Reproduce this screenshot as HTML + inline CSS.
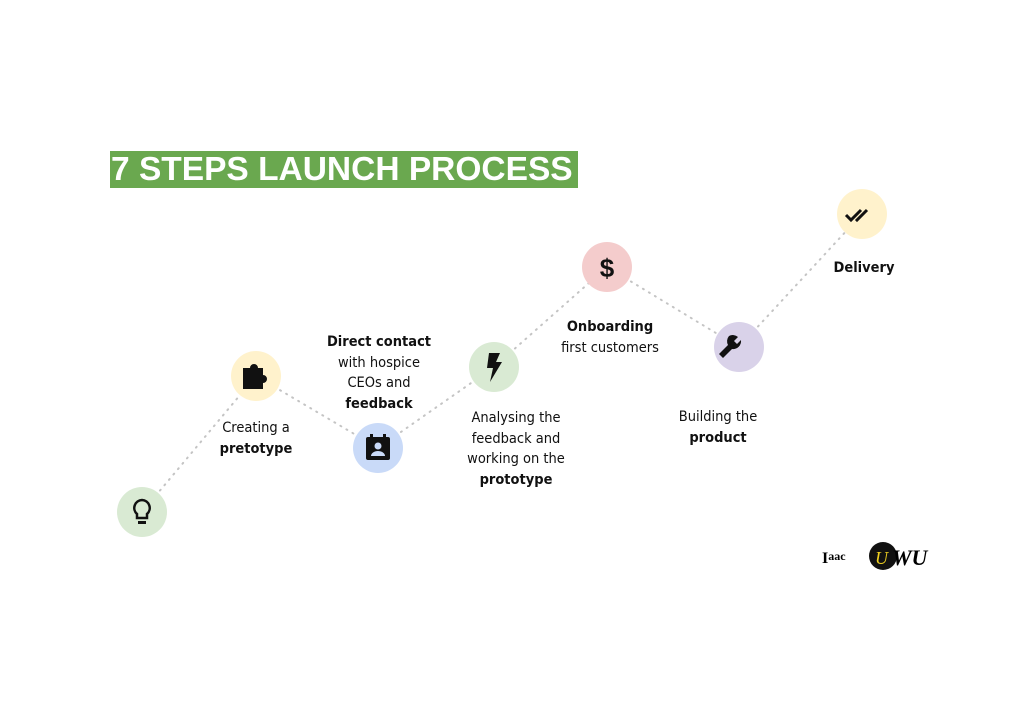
<!DOCTYPE html>
<html><head><style>
body{margin:0;width:1024px;height:725px;background:#fff;position:relative;overflow:hidden;font-family:"Liberation Sans",sans-serif}
.t{position:absolute;left:110px;top:151px;width:468px;height:37px;background:#6aa84f;color:#fff;font-weight:bold;font-size:33.5px;line-height:37px;white-space:nowrap;text-indent:1px;overflow:hidden}
.l{position:absolute;font-size:14.5px;line-height:20.5px;text-align:center;color:#111;width:160px;margin-left:-80px;font-family:"DejaVu Sans Condensed","Liberation Sans",sans-serif}
</style></head><body>
<div class="t">7 STEPS LAUNCH PROCESS</div>
<svg width="1024" height="725" style="position:absolute;left:0;top:0">
<g stroke="#c4c4c4" stroke-width="2" stroke-dasharray="1 6" stroke-linecap="round">
<line x1="142" y1="512" x2="256" y2="376"/>
<line x1="256" y1="376" x2="378" y2="448"/>
<line x1="378" y1="448" x2="494" y2="367"/>
<line x1="494" y1="367" x2="607" y2="267"/>
<line x1="607" y1="267" x2="739" y2="347"/>
<line x1="739" y1="347" x2="862" y2="214"/>
</g>
<circle cx="142" cy="512" r="25" fill="#d9ead3"/>
<circle cx="256" cy="376" r="25" fill="#fff2cc"/>
<circle cx="378" cy="448" r="25" fill="#c9daf8"/>
<circle cx="494" cy="367" r="25" fill="#d9ead3"/>
<circle cx="607" cy="267" r="25" fill="#f4cccc"/>
<circle cx="739" cy="347" r="25" fill="#d9d2e9"/>
<circle cx="862" cy="214" r="25" fill="#fff2cc"/>
<path d="M142 500a8 8 0 0 0-5 14v4h10v-4a8 8 0 0 0-5-14z" fill="none" stroke="#111" stroke-width="2.5"/>
<rect x="138" y="521" width="8" height="3" fill="#111"/>
<path d="M243 368h7a4 4 0 1 1 8 0h5v7a4 4 0 1 1 0 8v6h-20z" fill="#111"/>
<rect x="366" y="437" width="24" height="23" rx="2" fill="#111"/>
<rect x="370" y="434" width="3" height="5" fill="#111"/><rect x="383" y="434" width="3" height="5" fill="#111"/>
<circle cx="378" cy="446" r="3.5" fill="#c9daf8"/><path d="M371 456a7 5 0 0 1 14 0z" fill="#c9daf8"/>
<path d="M489 353h11l-4 9h6l-12 20 3-14h-6z" fill="#111"/>
<text x="607" y="277" font-size="26" font-weight="bold" text-anchor="middle" font-family="Liberation Sans" fill="#111">$</text>
<path d="M729 336a8 8 0 0 1 9 1l-4 4 3 3 4-4a8 8 0 0 1-9 9l-9 9-4-4 9-9a8 8 0 0 1 1-9z" fill="#111"/>
<path d="M846 215l5 5 10-10M856 219l1 1 10-10" fill="none" stroke="#111" stroke-width="3"/>
<text x="822" y="563" font-size="16" font-weight="bold" font-family="Liberation Serif">I<tspan font-size="12" dy="-3">aac</tspan></text>
<circle cx="883" cy="556" r="14" fill="#111"/>
<text x="875" y="564" font-size="18" fill="#f0d020" font-family="Liberation Serif" font-style="italic">U</text>
<text x="892" y="565" font-size="22" font-family="Liberation Serif" font-style="italic" font-weight="bold">WU</text>
</svg>
<div class="l" style="left:256px;top:418px">Creating a<br><b>pretotype</b></div>
<div class="l" style="left:379px;top:332px"><b>Direct contact</b><br>with hospice<br>CEOs and<br><b>feedback</b></div>
<div class="l" style="left:516px;top:408px">Analysing the<br>feedback and<br>working on the<br><b>prototype</b></div>
<div class="l" style="left:610px;top:317px"><b>Onboarding</b><br>first customers</div>
<div class="l" style="left:718px;top:407px">Building the<br><b>product</b></div>
<div class="l" style="left:864px;top:258px"><b>Delivery</b></div>
</body></html>
